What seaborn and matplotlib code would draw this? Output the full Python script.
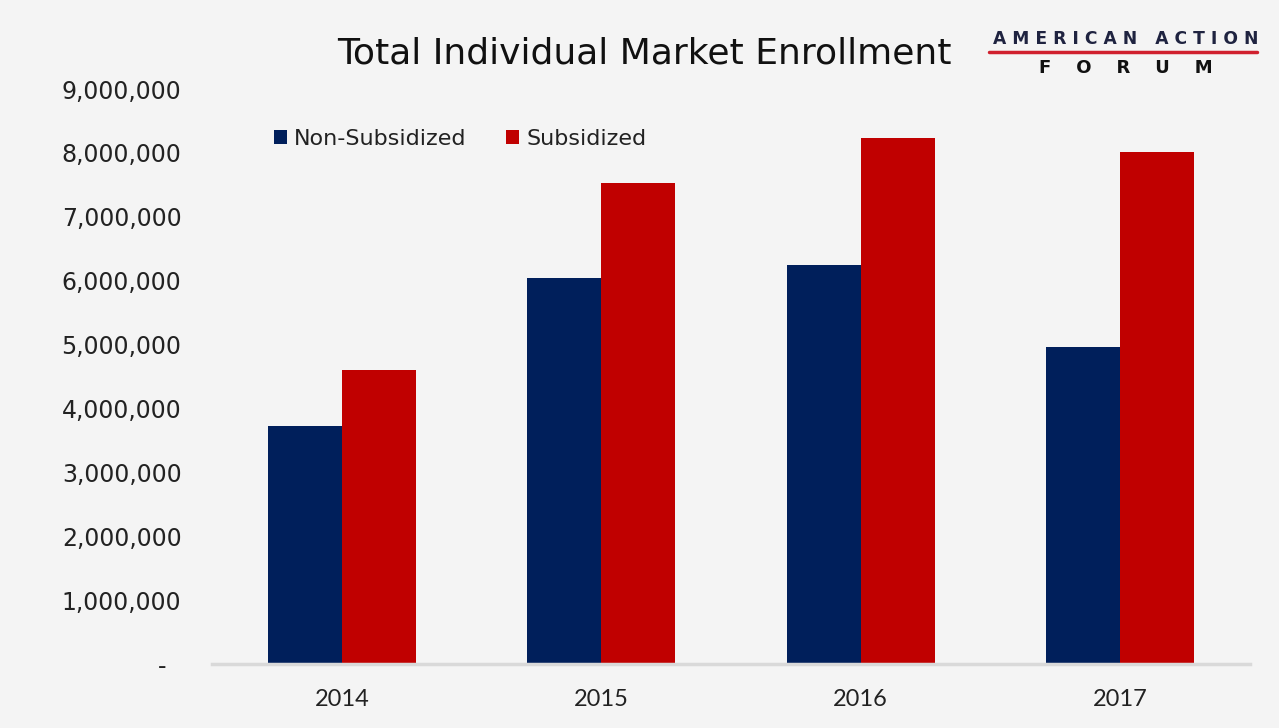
import matplotlib
matplotlib.use("Agg")
import matplotlib.pyplot as plt
import seaborn as sns
import pandas as pd

years = ["2014", "2015", "2016", "2017"]
non_subsidized = [3720000, 6040000, 6240000, 4960000]
subsidized = [4600000, 7530000, 8230000, 8010000]
series_names = ["Non-Subsidized", "Subsidized"]
series_colors = ["#001f5b", "#c00000"]
y_ticks = [0, 1000000, 2000000, 3000000, 4000000, 5000000, 6000000, 7000000, 8000000, 9000000]

df = pd.DataFrame({
    "Year": years * 2,
    "Enrollment": non_subsidized + subsidized,
    "Type": [series_names[0]] * 4 + [series_names[1]] * 4,
})

sns.set_theme(style="white")
plt.rcParams["font.family"] = ["DejaVu Sans"]
bg = "#f4f4f4"
fig = plt.figure(figsize=(12.79, 7.28), dpi=100, facecolor=bg)
ax = fig.add_axes([0.1658, 0.0879, 0.8115, 0.7898])
ax.set_facecolor(bg)

sns.barplot(data=df, x="Year", y="Enrollment", hue="Type", order=years,
            hue_order=series_names, palette=series_colors, width=0.57,
            saturation=1, linewidth=0, edgecolor="none", ax=ax, legend=True)

ax.set_xlim(-0.5, 3.5)
ax.set_ylim(0, 9000000)
ax.set_yticks(y_ticks)
ax.set_yticklabels([f"{v:,}" if v else "-  " for v in y_ticks],
                   fontsize=17, color="#222222")
ax.tick_params(axis="y", length=0, pad=22)
ax.tick_params(axis="x", length=0, pad=18, labelcolor="#222222")
for lab in ax.get_xticklabels():
    lab.set_fontfamily("Lato")
    lab.set_fontsize(17)
ax.set_xlabel("")
ax.set_ylabel("")
for s in ["top", "right", "left"]:
    ax.spines[s].set_visible(False)
ax.spines["bottom"].set_color("#d9d9d9")
ax.spines["bottom"].set_linewidth(2.5)

leg = ax.legend(loc="upper left", bbox_to_anchor=(0.04, 0.965), ncol=2, frameon=False,
                fontsize=16, handlelength=0.6, handleheight=0.6, handletextpad=0.3,
                columnspacing=1.8)
for t in leg.get_texts():
    t.set_color("#222222")

fig.text(0.504, 0.926, "Total Individual Market Enrollment", ha="center", va="center",
         fontsize=26, color="#111111")

# logo
fig.text(0.8805, 0.947, "A M E R I C A N   A C T I O N", ha="center", va="center",
         fontsize=12.3, fontweight="bold", color="#1f2340")
fig.add_artist(plt.Line2D([0.773, 0.983], [0.928, 0.928], color="#d0202e", lw=2.5))
fig.text(0.8805, 0.906, "F    O    R    U    M", ha="center", va="center",
         fontsize=13, fontweight="black", color="#111111")

fig.savefig("out.png", dpi=100, facecolor=bg)
